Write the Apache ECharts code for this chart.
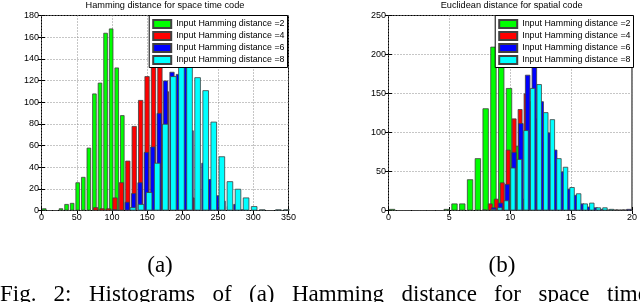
<!DOCTYPE html>
<html><head><meta charset="utf-8">
<script src="https://cdn.jsdelivr.net/npm/echarts@6/dist/echarts.min.js"></script>
<style>html,body{margin:0;padding:0;background:#fff}#c{width:640px;height:302px}</style>
</head><body><div id="c"></div>
<script>
// ---------- shared ----------
const seriesNames = ['Input Hamming distance =2','Input Hamming distance =4','Input Hamming distance =6','Input Hamming distance =8'];
const seriesColors = ['#00ff00','#ff0000','#0000ff','#00ffff'];

// ---------- (a) Hamming distance for space time code ----------
const aTitle = 'Hamming distance for space time code';
const aXMin = 0, aXMax = 350, aXInterval = 50;
const aYMin = 0, aYMax = 180, aYInterval = 20;
const aGreenX = [3.9, 11.8, 19.7, 27.6, 35.5, 43.4, 51.3, 59.2, 67.1, 75.0, 82.9, 90.8, 98.7, 106.6, 114.5];
const aGreenY = [2, 0, 0, 2, 6, 7, 26, 31, 58, 108, 118, 164, 168, 132, 88];
const aRedX = [76.8, 85.9, 95.0, 104.1, 113.2, 122.3, 131.4, 140.5, 149.6, 158.7, 167.8, 176.9, 186.0, 195.1, 204.2, 213.3];
const aRedY = [3, 2, 2, 12, 26, 46, 78, 102, 124, 148, 134, 110, 90, 60, 30, 12];
const aBlueX = [103.5, 112.5, 121.5, 130.6, 139.6, 148.7, 157.7, 166.8, 175.8, 184.9, 193.9, 203.0, 212.0, 221.1, 230.1, 239.2, 248.2, 257.3, 266.3, 275.4, 284.4];
const aBlueY = [1, 0, 8, 16, 26, 54, 59, 90, 120, 128, 126, 140, 74, 58, 44, 29, 14, 9, 4, 6, 1];
const aCyanX = [129.6, 141.05, 152.5, 163.95, 175.4, 186.85, 198.3, 209.75, 221.2, 232.65, 244.1, 255.55, 267.0, 278.45, 289.9, 301.35, 312.8, 324.25, 335.7, 347.15];
const aCyanY = [3, 6, 17, 44, 80, 124, 150, 146, 123, 111, 82, 50, 27, 20, 12, 4, 1, 0, 1, 1];

// ---------- (b) Euclidean distance for spatial code ----------
const bTitle = 'Euclidean distance for spatial code';
const bXMin = 0, bXMax = 20, bXInterval = 5;
const bYMin = 0, bYMax = 250, bYInterval = 50;
const bGreenX = [0.3, 0.94, 1.58, 2.22, 2.86, 3.5, 4.14, 4.78, 5.42, 6.06, 6.7, 7.34, 7.98, 8.62, 9.26, 9.9, 10.54, 11.18];
const bGreenY = [2, 0, 0, 0, 0, 0, 0, 2, 9, 9, 40, 67, 131, 210, 195, 157, 83, 15];
const bRedX = [7.87, 8.36, 8.85, 9.34, 9.83, 10.32, 10.81, 11.30, 11.79, 12.28, 12.77, 13.26, 13.75, 14.24, 14.73, 15.22];
const bRedY = [1, 9, 15, 36, 78, 118, 130, 150, 140, 118, 88, 60, 34, 16, 6, 2];
const bBlueX = [8.65, 9.2, 9.76, 10.31, 10.87, 11.43, 11.98, 12.54, 13.09, 13.65, 14.2, 14.76, 15.31, 15.87, 16.42, 16.98, 17.53, 18.09, 18.64, 19.2, 19.75];
const bBlueY = [4, 10, 34, 75, 112, 174, 186, 140, 100, 78, 50, 28, 20, 9, 5, 4, 2, 1, 1, 1, 2];
const bCyanX = [8.6, 9.14, 9.68, 10.22, 10.76, 11.3, 11.84, 12.38, 12.92, 13.46, 14.0, 14.54, 15.08, 15.62, 16.16, 16.7, 17.24, 17.78, 18.32, 18.86, 19.4];
const bCyanY = [2, 4, 13, 55, 66, 103, 157, 162, 126, 117, 67, 56, 30, 22, 9, 10, 4, 4, 2, 1, 1];

// ---------- captions ----------
const subLabels = ['(a)', '(b)'];
const captionWords = ['Fig.', '2:', 'Histograms', 'of', '(a)', 'Hamming', 'distance', 'for', 'space', 'time'];

// ---------- build ----------
const SANS = 'Liberation Sans, Arial, Helvetica, sans-serif';
const SERIF = 'Liberation Serif, Times New Roman, serif';
const pair = (xs, ys) => xs.map((x, i) => [x, ys[i]]);

const grids = [
  {left: 41.5, top: 15.5, width: 247, height: 195},
  {left: 388.5, top: 15.5, width: 246.5, height: 195}
];
const panels = [
  {xr: [aXMin, aXMax, aXInterval], yr: [aYMin, aYMax, aYInterval],
   data: [[aGreenX, aGreenY], [aRedX, aRedY], [aBlueX, aBlueY], [aCyanX, aCyanY]]},
  {xr: [bXMin, bXMax, bXInterval], yr: [bYMin, bYMax, bYInterval],
   data: [[bGreenX, bGreenY], [bRedX, bRedY], [bBlueX, bBlueY], [bCyanX, bCyanY]]}
];

const xAxes = [], yAxes = [], series = [];
const tickStyle = {inside: true, length: 3.5, lineStyle: {color: '#000', width: 1}};
const labelStyle = {fontSize: 9, color: '#000', fontFamily: SANS};
panels.forEach((p, g) => {
  const [xmin, xmax, xint] = p.xr;
  const [ymin, ymax, yint] = p.yr;
  xAxes.push({type: 'value', gridIndex: g, min: xmin, max: xmax, interval: xint, position: 'bottom',
    axisLine: {show: false}, axisTick: tickStyle,
    axisLabel: Object.assign({margin: 2.5, showMinLabel: true, showMaxLabel: true}, labelStyle),
    splitLine: {show: true, lineStyle: {type: [1, 2], color: '#8c8c8c', width: 1}}});
  xAxes.push({type: 'value', gridIndex: g, min: xmin, max: xmax, interval: xint, position: 'top',
    axisLine: {show: false}, axisTick: tickStyle, axisLabel: {show: false}, splitLine: {show: false}});
  yAxes.push({type: 'value', gridIndex: g, min: ymin, max: ymax, interval: yint, position: 'left',
    axisLine: {show: false}, axisTick: tickStyle,
    axisLabel: Object.assign({margin: 2.5}, labelStyle),
    splitLine: {show: true, lineStyle: {type: [1, 2], color: '#8c8c8c', width: 1}}});
  yAxes.push({type: 'value', gridIndex: g, min: ymin, max: ymax, interval: yint, position: 'right',
    axisLine: {show: false}, axisTick: tickStyle, axisLabel: {show: false}, splitLine: {show: false}});
  p.data.forEach((d, s) => {
    const xi = xAxes.length;
    xAxes.push({type: 'value', gridIndex: g, min: xmin, max: xmax, show: false});
    series.push({
      type: 'bar', name: seriesNames[s], xAxisIndex: xi, yAxisIndex: g * 2,
      data: pair(d[0], d[1]), barWidth: '80%',
      itemStyle: {color: seriesColors[s], borderColor: '#404040', borderWidth: 0.8},
      emphasis: {disabled: true}, animation: false
    });
  });
});

const legendBase = {
  data: seriesNames, orient: 'vertical', top: 15.5,
  backgroundColor: '#fff', borderColor: '#000', borderWidth: 1,
  padding: [3.5, 3, 2.5, 3], itemWidth: 18, itemHeight: 8, itemGap: 2,
  icon: 'rect', selectedMode: false,
  textStyle: {fontSize: 8.9, color: '#000', fontFamily: SANS}
};

const graphics = [
  {type: 'text', x: 165, y: 5.5, style: {text: aTitle, fill: '#000', font: '9.2px ' + SANS, align: 'center', verticalAlign: 'middle'}},
  {type: 'text', x: 511.7, y: 5.5, style: {text: bTitle, fill: '#000', font: '9.2px ' + SANS, align: 'center', verticalAlign: 'middle'}},
  {type: 'text', x: 160, y: 266, style: {text: subLabels[0], fill: '#000', font: '23px ' + SERIF, align: 'center', verticalAlign: 'middle'}},
  {type: 'text', x: 502, y: 266, style: {text: subLabels[1], fill: '#000', font: '23px ' + SERIF, align: 'center', verticalAlign: 'middle'}}
];
const captionX = [0, 53.5, 89, 212.5, 249, 292, 401.5, 494, 538.5, 607];
captionWords.forEach((w, i) => {
  graphics.push({type: 'text', x: captionX[i], y: 294.5,
    style: {text: w, fill: '#000', font: '23px ' + SERIF, align: 'left', verticalAlign: 'middle'}});
});

const chart = echarts.init(document.getElementById('c'), null, {renderer: 'canvas'});
chart.setOption({
  backgroundColor: '#fff',
  animation: false,
  grid: grids.map(g => Object.assign({show: true, borderColor: '#000', borderWidth: 1, backgroundColor: 'transparent', containLabel: false}, g)),
  xAxis: xAxes,
  yAxis: yAxes,
  legend: [
    Object.assign({}, legendBase, {right: 352.5}),
    Object.assign({}, legendBase, {right: 6.5})
  ],
  series: series,
  graphic: graphics
});
</script></body></html>
